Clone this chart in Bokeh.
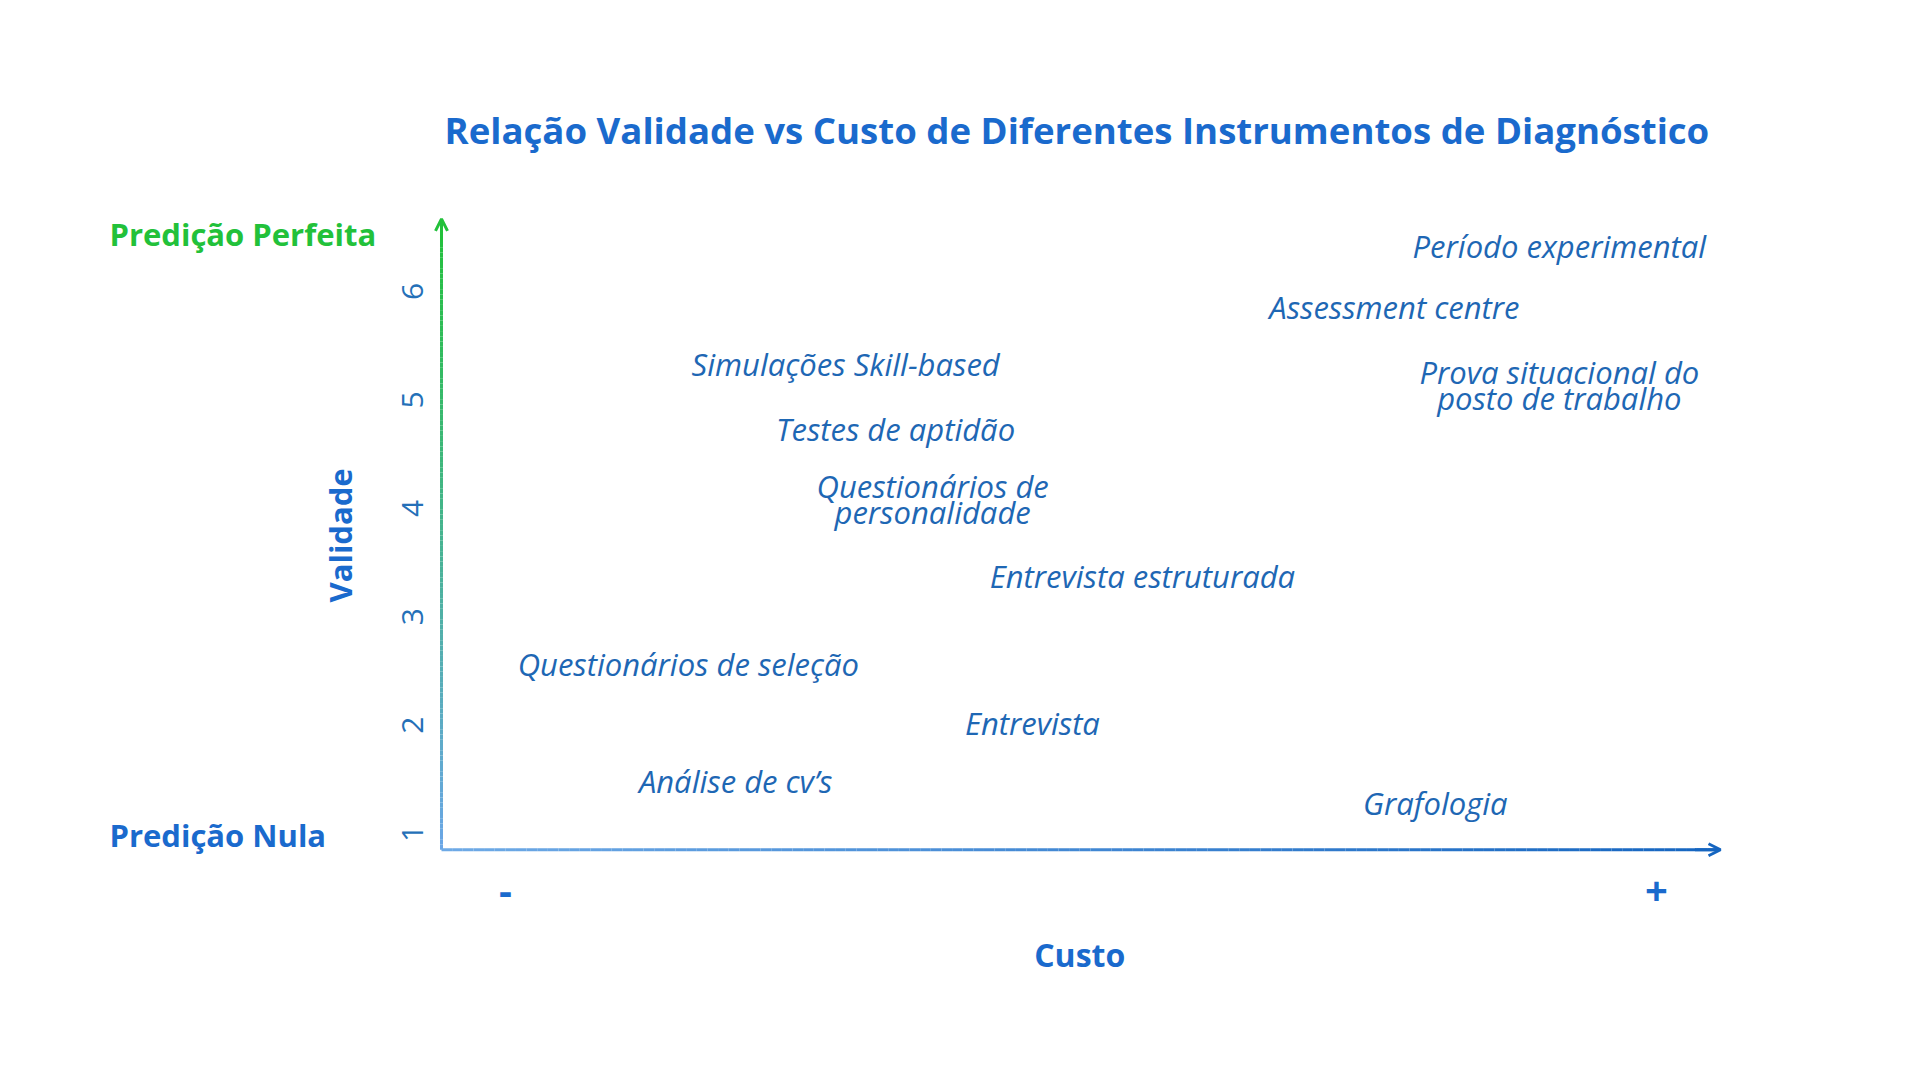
import numpy as np
from bokeh.plotting import figure
from bokeh.models import Range1d, FixedTicker, Arrow, OpenHead, ColumnDataSource
from bokeh.core.properties import value
from bokeh.embed import file_html
from bokeh.resources import INLINE

# ---- data ----
instrumentos = [
    "Período experimental",
    "Assessment centre",
    "Prova situacional do\nposto de trabalho",
    "Simulações Skill-based",
    "Testes de aptidão",
    "Questionários de\npersonalidade",
    "Entrevista estruturada",
    "Questionários de seleção",
    "Entrevista",
    "Análise de cv’s",
    "Grafologia",
]
custo = [8.74, 7.45, 8.74, 3.16, 3.55, 3.84, 5.48, 1.93, 4.62, 2.30, 7.77]
validade = [6.42, 5.86, 5.14, 5.33, 4.73, 4.09, 3.38, 2.56, 2.02, 1.48, 1.28]
y_ticks = [1, 2, 3, 4, 5, 6]
x_tick_pos = [0.5, 9.5]
x_tick_labels = ["-", "+"]
extremos = ["Predição Perfeita", "Predição Nula"]
extremos_y = [6.535, 0.99]
titulo = "Relação Validade vs Custo de Diferentes Instrumentos de Diagnóstico"

FONT = "Open Sans"
TITLE_C = "#1A6ACD"
ITEM_C = "#1E67B4"
GREEN = "#22C13A"
TICK_C = "#2470B8"

X0, Y0 = 0.0, 0.85      # axis origin
X_END, Y_END = 10.0, 6.67

p = figure(width=1920, height=1080, output_backend="svg", toolbar_location=None,
           x_range=Range1d(-2.8225, 10.1016), y_range=Range1d(-0.4483, 6.849),
           min_border_left=80, min_border_right=187, min_border_top=199, min_border_bottom=90,
           background_fill_color="white", border_fill_color="white")
p.outline_line_color = None
p.xgrid.grid_line_color = None
p.ygrid.grid_line_color = None

# title
p.title.text = titulo
p.title.align = "left"
p.title.offset = 364
p.title.text_font = FONT
p.title.text_font_size = "36.6px"
p.title.text_font_style = "bold"
p.title.text_color = TITLE_C
p.title.standoff = 89

# y axis (drawn at x = 0)
ya = p.yaxis[0]
ya.fixed_location = X0
ya.ticker = FixedTicker(ticks=y_ticks)
ya.major_label_orientation = "vertical"
ya.axis_line_color = None
ya.major_tick_line_color = None
ya.minor_tick_line_color = None
ya.major_label_text_font = FONT
ya.major_label_text_font_size = "30px"
ya.major_label_text_color = TICK_C
ya.major_label_standoff = 12

# x axis (drawn at y = Y0)
xa = p.xaxis[0]
xa.fixed_location = Y0
xa.ticker = FixedTicker(ticks=x_tick_pos)
xa.major_label_overrides = {t: l for t, l in zip(x_tick_pos, x_tick_labels)}
xa.axis_line_color = None
xa.major_tick_line_color = None
xa.minor_tick_line_color = None
xa.major_label_text_font = FONT
xa.major_label_text_font_size = "40px"
xa.major_label_text_font_style = "bold"
xa.major_label_text_color = TITLE_C
xa.major_label_standoff = 21

# gradient axis lines
def lerp_colors(c0, c1, n):
    a = np.array([int(c0[i:i + 2], 16) for i in (1, 3, 5)], float)
    b = np.array([int(c1[i:i + 2], 16) for i in (1, 3, 5)], float)
    out = []
    for t in np.linspace(0, 1, n):
        c = a + (b - a) * t
        out.append("#%02x%02x%02x" % tuple(int(round(v)) for v in c))
    return out

n = 120
ys = np.linspace(Y0, Y_END - 0.02, n + 1)
p.segment(x0=[X0] * n, y0=ys[:-1], x1=[X0] * n, y1=ys[1:],
          line_color=lerp_colors("#6AA6E6", GREEN, n), line_width=3)
xs = np.linspace(X0, X_END - 0.02, n + 1)
p.segment(x0=xs[:-1], y0=[Y0] * n, x1=xs[1:], y1=[Y0] * n,
          line_color=lerp_colors("#6EAAE6", "#1565C0", n), line_width=3)

p.add_layout(Arrow(end=OpenHead(size=12, line_color=GREEN, line_width=3),
                   x_start=X0, y_start=Y_END - 0.2, x_end=X0, y_end=Y_END,
                   line_color=GREEN, line_width=3))
p.add_layout(Arrow(end=OpenHead(size=12, line_color="#1565C0", line_width=3),
                   x_start=X_END - 0.2, y_start=Y0, x_end=X_END, y_end=Y0,
                   line_color="#1565C0", line_width=3))

# instrument labels
src = ColumnDataSource(dict(x=custo, y=validade, t=instrumentos))
p.text(x="x", y="y", text="t", source=src, text_align="center", text_baseline="middle",
       text_font=value(FONT), text_font_style="italic", text_font_size="31px",
       text_color=ITEM_C, text_line_height=0.62)

# axis titles
p.text(x=[-0.797], y=[3.75], text=["Validade"], angle=np.pi / 2,
       text_align="center", text_baseline="middle",
       text_font=value(FONT), text_font_style="bold", text_font_size="31px",
       text_color=TITLE_C)
p.text(x=[4.99], y=[-0.116], text=["Custo"],
       text_align="center", text_baseline="middle",
       text_font=value(FONT), text_font_style="bold", text_font_size="32px",
       text_color=TITLE_C)

# extremes of the validity scale
p.text(x=[-2.596, -2.596], y=extremos_y, text=extremos,
       text_align="left", text_baseline="middle",
       text_font=value(FONT), text_font_style="bold", text_font_size="31px",
       text_color=[GREEN, TITLE_C])

open("out.html", "w").write(file_html(p, INLINE))
